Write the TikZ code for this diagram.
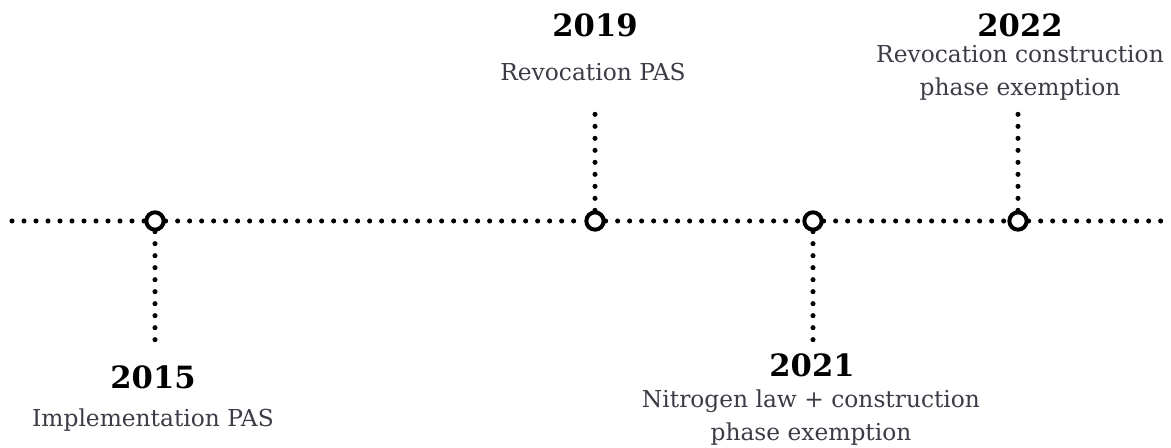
\documentclass[tikz,border=0pt]{standalone}
\usepackage{fontspec}
\setmainfont{DejaVu Serif}
\usetikzlibrary{positioning}
\definecolor{inkgrey}{RGB}{62,58,70}

\begin{document}
\begin{tikzpicture}[x=0.75pt,y=-0.75pt,
  dotline/.style={line width=3.8pt,line cap=round,dash pattern=on 0pt off 9pt},
  event/.style={circle,draw,line width=3pt,fill=white,minimum size=13pt,inner sep=0pt},
  year/.style={anchor=base,font=\bfseries\fontsize{23}{28}\selectfont},
  caption/.style={anchor=base,font=\fontsize{17.5}{24.75}\selectfont,text=inkgrey,align=center}]
  \useasboundingbox (0,0) rectangle (1171,448);
  % events on the axis
  \node[event] (e15) at (155,221) {};
  \node[event] (e19) at (595,221) {};
  \node[event] (e21) at (813,221) {};
  \node[event] (e22) at (1018,221) {};
  \coordinate (axisL) at (12,221);
  \coordinate (axisR) at (1171,221);
  % time axis
  \draw[dotline] (axisL) -- (e15);
  \draw[dotline] (e15) -- (e19);
  \draw[dotline] (e19) -- (e21);
  \draw[dotline] (e21) -- (e22);
  \draw[dotline] (e22) -- (axisR);
  % labels below
  \node[year] (y15) at (153,389) {2015};
  \node[caption] (t15) at (153,427) {Implementation PAS};
  \node[year] (y21) at (812,377) {2021};
  \node[caption] (t21) at (811,441) {Nitrogen law + construction\\phase exemption};
  % labels above
  \node[year] (y19) at (595,37) {2019};
  \node[caption] (t19) at (593,81) {Revocation PAS};
  \node[year] (y22) at (1020,37) {2022};
  \node[caption] (t22) at (1020,96) {Revocation construction\\phase exemption};
  % stems
  \coordinate (s15) at (155,340);
  \coordinate (s19) at (595,112);
  \coordinate (s21) at (813,345);
  \coordinate (s22) at (1018,112);
  \draw[dotline] (e15) -- (s15);
  \draw[dotline] (e19) -- (s19);
  \draw[dotline] (e21) -- (s21);
  \draw[dotline] (e22) -- (s22);
\end{tikzpicture}
\end{document}
